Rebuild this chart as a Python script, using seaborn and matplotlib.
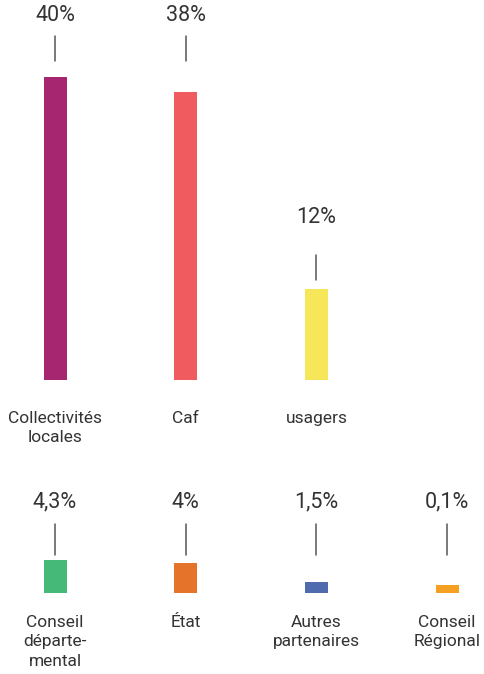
import matplotlib
matplotlib.use("Agg")
import matplotlib.pyplot as plt
import seaborn as sns

# top row (main funders)
top_labels = ["Collectivités\nlocales", "Caf", "usagers"]
top_values = [40, 38, 12]
top_text = ["40%", "38%", "12%"]
top_colors = ["#A6276F", "#F05B5F", "#F5E65A"]

# bottom row (small funders)
bottom_labels = ["Conseil\ndéparte-\nmental", "État", "Autres\npartenaires", "Conseil\nRégional"]
bottom_values = [4.3, 4.0, 1.5, 0.1]
bottom_text = ["4,3%", "4%", "1,5%", "0,1%"]
bottom_colors = ["#45BA78", "#E5732A", "#4F6AAD", "#F5A020"]

sns.set_theme(style="white")
plt.rcParams["font.family"] = ["Roboto", "DejaVu Sans"]

W, H = 485, 674
PX = 7.58          # pixels per percentage point
STEP = 130.7       # pixels between bar centres
X0 = 55            # centre of first bar in pixels
TEXT = "#333333"
LINE = "#555555"

fig = plt.figure(figsize=(W / 100, H / 100), dpi=100)
ax_top = fig.add_axes([0, (H - 380) / H, 1, 380 / H])
ax_bot = fig.add_axes([0, (H - 593) / H, 1, 113 / H])


def draw_row(ax, labels, values, colors, pad):
    sns.barplot(x=labels, y=values, hue=labels, order=labels, hue_order=labels,
                palette=colors, saturation=1, width=23 / STEP, linewidth=0,
                legend=False, ax=ax)
    ax.set_xlim(-X0 / STEP, (W - X0) / STEP)
    ax.set_ylim(0, ax.bbox.height / PX)
    ax.set_yticks([])
    ax.set_xlabel("")
    ax.set_ylabel("")
    sns.despine(ax=ax, left=True, bottom=True)
    ax.tick_params(axis="x", length=0, pad=pad, labelsize=12.5, labelcolor=TEXT)
    for lab in ax.get_xticklabels():
        lab.set_linespacing(1.35)
    ax.patch.set_alpha(0)


draw_row(ax_top, top_labels, top_values, top_colors, pad=22)
draw_row(ax_bot, bottom_labels, bottom_values, bottom_colors, pad=16)

# smallest bar would be invisible: give it a minimum visible height
tiny = ax_bot.patches[len(bottom_values) - 1]
tiny.set_height(max(tiny.get_height(), 8 / PX))

# value labels, top row
top_max = max(top_values)
for i, (v, t) in enumerate(zip(top_values, top_text)):
    big = v > 20
    base = top_max + 16 / PX if big else v + 9 / PX
    tip = base + 25 / PX
    ty = tip + (20 if big else 38) / PX
    ax_top.plot([i, i], [base, tip], color=LINE, lw=1.1, clip_on=False)
    ax_top.text(i, ty, t, ha="center", va="center", fontsize=15.5,
                color=TEXT, clip_on=False)

# value labels, bottom row (aligned)
for i, t in enumerate(bottom_text):
    base, tip, ty = 38 / PX, 69 / PX, 91 / PX
    ax_bot.plot([i, i], [base, tip], color=LINE, lw=1.1, clip_on=False)
    ax_bot.text(i, ty, t, ha="center", va="center", fontsize=15.5,
                color=TEXT, clip_on=False)

fig.savefig("out.png", dpi=100, facecolor="white")
